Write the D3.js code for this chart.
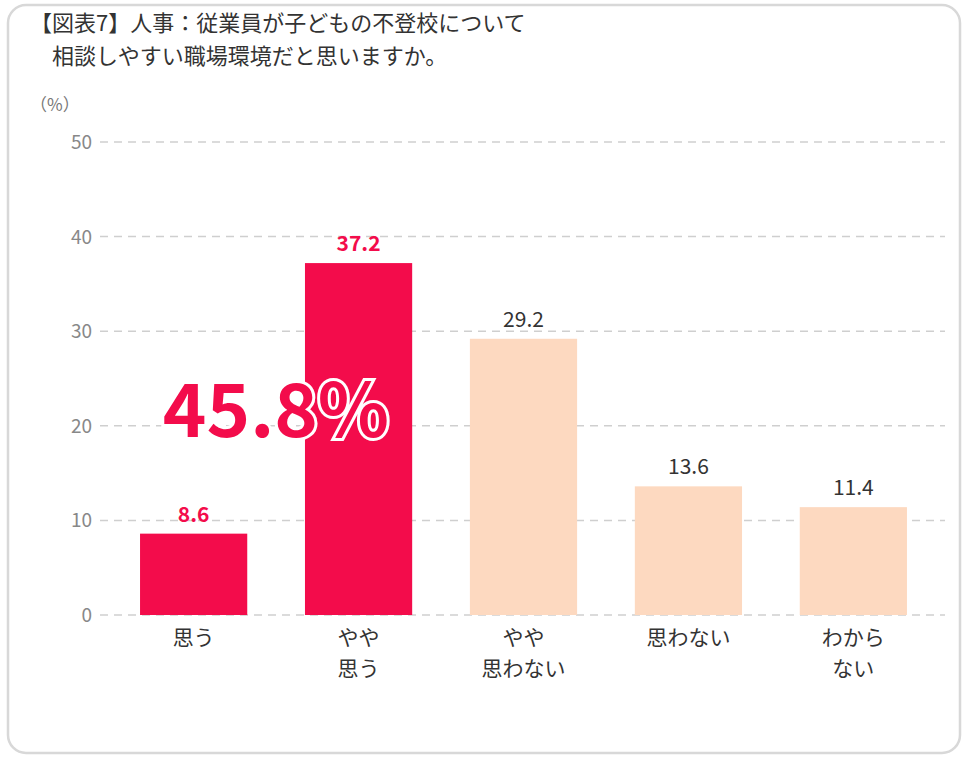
<!DOCTYPE html>
<html><head><meta charset="utf-8">
<script src="https://cdn.jsdelivr.net/npm/d3@7"></script>
<style>body{margin:0;background:#fff}text{font-family:"Noto Sans CJK JP","Noto Sans",sans-serif}</style>
</head><body>
<svg id="chart" width="970" height="760"></svg>
<script>
var categories = [['思う'], ['やや', '思う'], ['やや', '思わない'], ['思わない'], ['わから', 'ない']];
var values = [8.6, 37.2, 29.2, 13.6, 11.4];
var highlight = [true, true, false, false, false];
var yTicks = [0, 10, 20, 30, 40, 50];

var svg = d3.select('#chart');
svg.append('rect').attr('x', 8).attr('y', 5).attr('width', 952).attr('height', 748)
  .attr('rx', 18).attr('fill', '#fff').attr('stroke', '#d8d8d8').attr('stroke-width', 2.5);

svg.append('text').attr('x', 30).attr('y', 31).attr('font-size', 22).attr('fill', '#333')
  .text('【図表7】人事：従業員が子どもの不登校について');
svg.append('text').attr('x', 52).attr('y', 64).attr('font-size', 22).attr('fill', '#333')
  .text('相談しやすい職場環境だと思いますか。');
svg.append('text').attr('x', 30).attr('y', 111).attr('font-size', 17).attr('fill', '#777').text('（%）');

var y = d3.scaleLinear().domain([0, 50]).range([615, 142]);
var x = d3.scaleBand().domain(d3.range(values.length)).range([112, 935]).paddingInner(0.35).paddingOuter(0.17);

var grid = svg.append('g');
yTicks.forEach(function(t) {
  grid.append('line').attr('x1', 100).attr('x2', 945).attr('y1', y(t)).attr('y2', y(t))
    .attr('stroke', '#cfcfcf').attr('stroke-width', 1.5).attr('stroke-dasharray', '8,6');
  grid.append('text').attr('x', 92).attr('y', y(t) + 7).attr('text-anchor', 'end')
    .attr('font-size', 19).attr('fill', '#888').text(t);
});

var bars = svg.selectAll('g.bar').data(values).enter().append('g').classed('bar', true);
bars.append('rect')
  .attr('x', function(d, i) { return x(i); })
  .attr('width', x.bandwidth())
  .attr('y', function(d) { return y(d); })
  .attr('height', function(d) { return y(0) - y(d); })
  .attr('fill', function(d, i) { return highlight[i] ? '#f30c4b' : '#fdd9c0'; });
bars.append('text')
  .attr('x', function(d, i) { return x(i) + x.bandwidth() / 2; })
  .attr('y', function(d) { return y(d) - 12; })
  .attr('text-anchor', 'middle').attr('font-size', 21)
  .attr('font-weight', function(d, i) { return highlight[i] ? 'bold' : 'normal'; })
  .attr('fill', function(d, i) { return highlight[i] ? '#f30c4b' : '#333'; })
  .text(function(d) { return d.toFixed(1); });

categories.forEach(function(lines, i) {
  var t = svg.append('text').attr('text-anchor', 'middle').attr('font-size', 21).attr('fill', '#333');
  lines.forEach(function(l, j) {
    t.append('tspan').attr('x', x(i) + x.bandwidth() / 2).attr('y', 645 + j * 31).text(l);
  });
});

var sum = values[0] + values[1];
svg.append('text').attr('x', 276).attr('y', 437).attr('text-anchor', 'middle')
  .attr('font-family', '"Noto Sans", sans-serif')
  .attr('font-size', 74).attr('font-weight', 'bold').attr('fill', '#f30c4b')
  .attr('stroke', '#fff').attr('stroke-width', 6).attr('paint-order', 'stroke')
  .text(sum.toFixed(1) + '%');
</script>
</body></html>
